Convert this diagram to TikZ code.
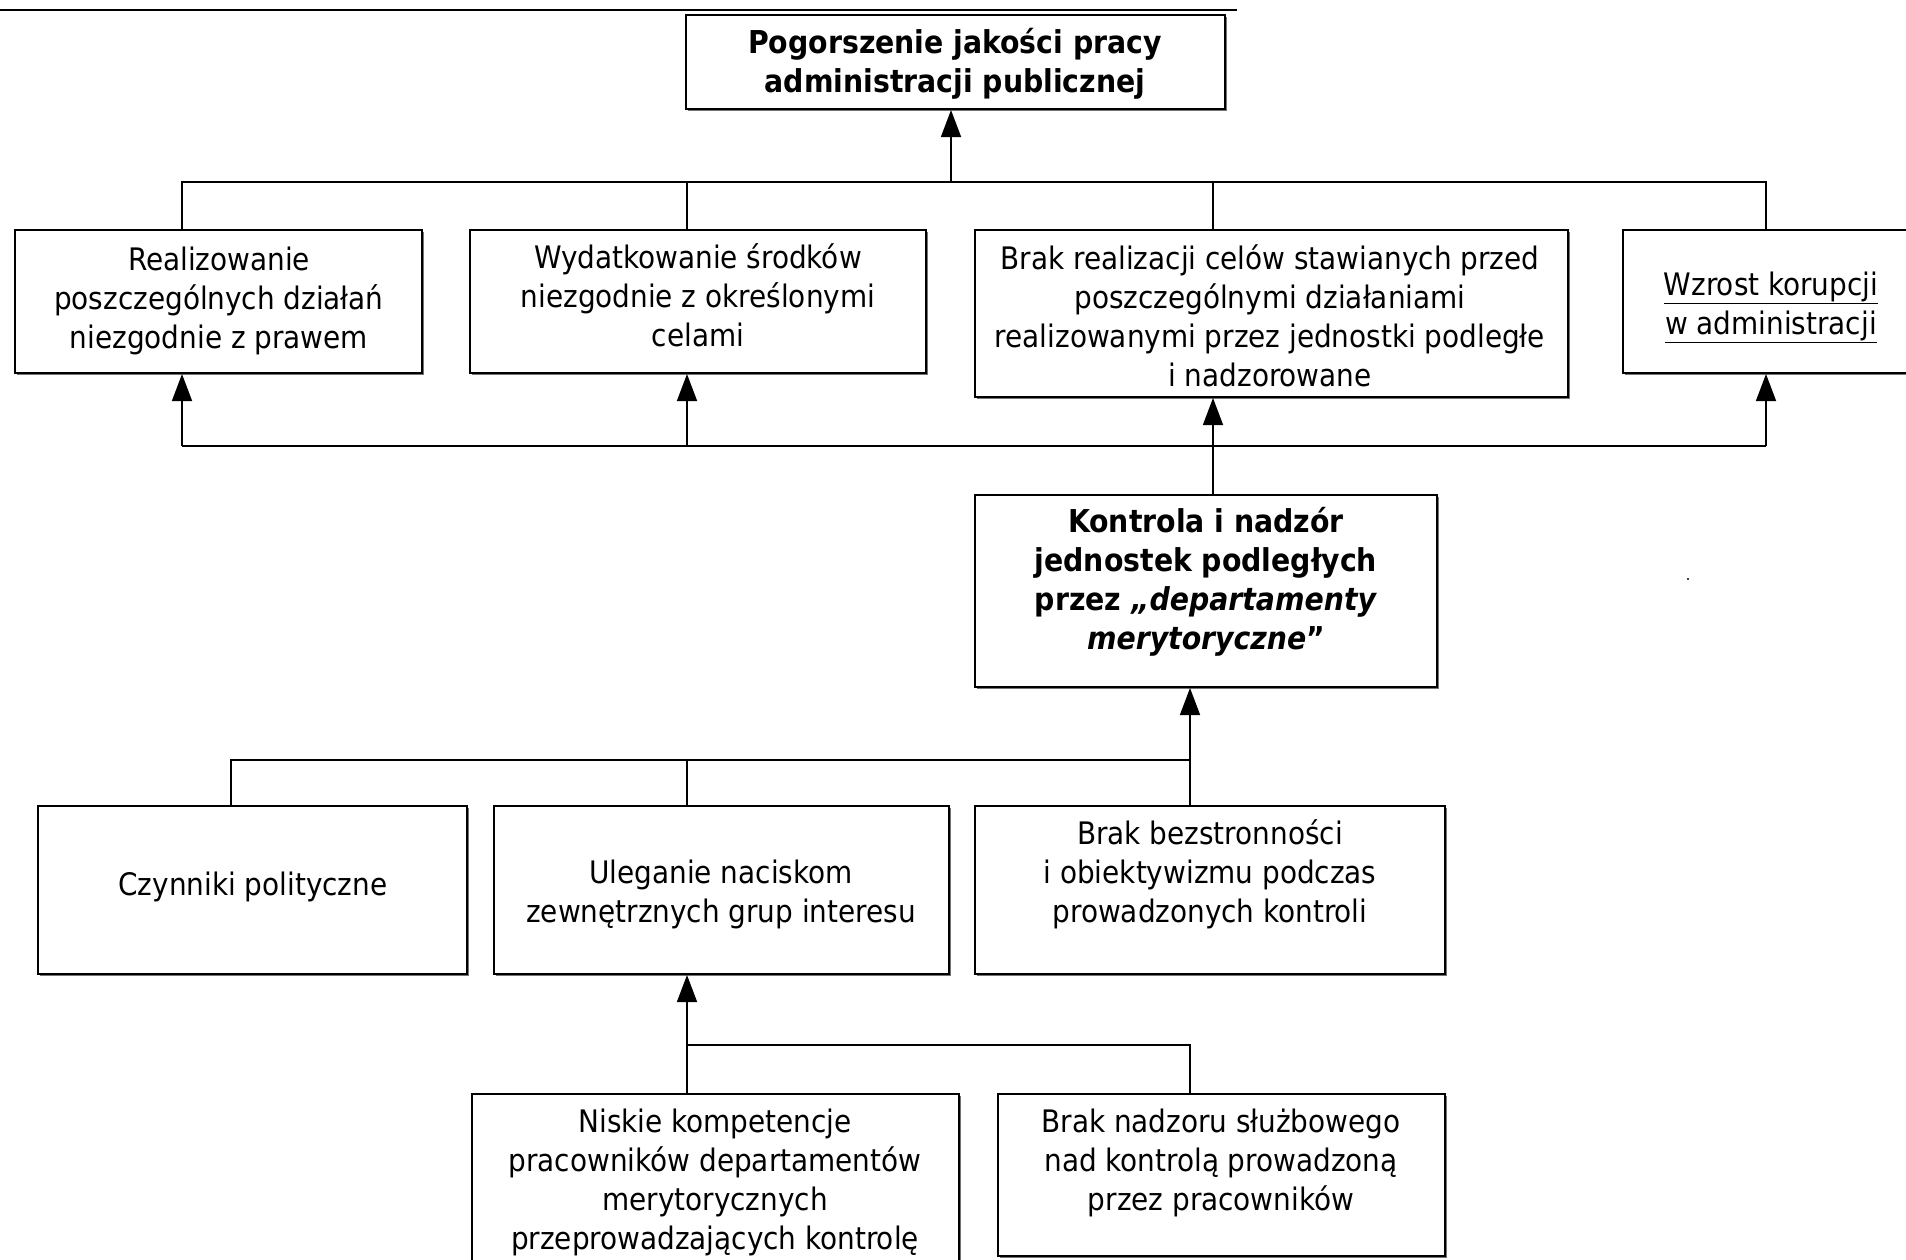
\documentclass[tikz,border=0pt]{standalone}
\usepackage{fontspec}
\setmainfont{DejaVu Sans Condensed}
\usetikzlibrary{arrows.meta,shadows}

\tikzset{
  box/.style={draw=black, line width=2pt, fill=white, inner sep=0pt,
    drop shadow={shadow xshift=1.5pt, shadow yshift=-2pt, fill=black!55, opacity=1}},
  txt/.style={align=center, inner sep=0pt, font=\fontsize{31}{39}\selectfont},
  btxt/.style={txt, font=\fontsize{31.5}{39}\selectfont\bfseries},
  link/.style={line width=1.5pt},
  arrowlink/.style={line width=1.5pt, -{Triangle[length=27pt, width=20pt]}},
}

\begin{document}
\begin{tikzpicture}[x=1pt, y=-1pt]
  \useasboundingbox (0,0) rectangle (1906,1259);
  \clip (0,0) rectangle (1906,1259);

  % header rule
  \draw[line width=2pt] (0,10) -- (1237,10);

  % boxes
  \node[box, minimum width=539pt, minimum height=94pt]  (top) at (955.5,62) {};
  \node[box, minimum width=407pt, minimum height=143pt] (b1)  at (218.5,301.5) {};
  \node[box, minimum width=456pt, minimum height=143pt] (b2)  at (698,301.5) {};
  \node[box, minimum width=593pt, minimum height=167pt] (b3)  at (1271.5,313.5) {};
  \node[box, minimum width=320pt, minimum height=143pt] (b4)  at (1783,301.5) {};
  \node[box, minimum width=462pt, minimum height=192pt] (kon) at (1206,591) {};
  \node[box, minimum width=429pt, minimum height=168pt] (c1)  at (252.5,890) {};
  \node[box, minimum width=455pt, minimum height=168pt] (c2)  at (721.5,890) {};
  \node[box, minimum width=470pt, minimum height=168pt] (c3)  at (1210,890) {};
  \node[box, minimum width=487pt, minimum height=190pt] (d1)  at (715.5,1189) {};
  \node[box, minimum width=447pt, minimum height=162pt] (d2)  at (1221.5,1175) {};

  % texts
  \node[btxt] (ttop) at (955,64) {Pogorszenie jakości pracy\\administracji publicznej};
  \node[txt] (tb1) at (219,300.5) {Realizowanie\\poszczególnych działań\\niezgodnie z prawem};
  \node[txt] (tb2) at (698,295.5) {Wydatkowanie środków\\niezgodnie z określonymi\\celami};
  \node[txt] (tb3) at (1270,316) {Brak realizacji celów stawianych przed\\poszczególnymi działaniami\\realizowanymi przez jednostki podległe\\i nadzorowane};
  \node[txt] (tb4) at (1771,307) {\underline{Wzrost korupcji}\\\underline{w administracji}};
  \node[btxt] (tkon) at (1206,582) {Kontrola i nadzór\\jednostek podległych\\przez \textit{„departamenty}\\\textit{merytoryczne}”};
  \node[txt] (tc1) at (253,887) {Czynniki polityczne};
  \node[txt] (tc2) at (721,894.5) {Uleganie naciskom\\zewnętrznych grup interesu};
  \node[txt] (tc3) at (1210,874) {Brak bezstronności\\i obiektywizmu podczas\\prowadzonych kontroli};
  \node[txt] (td1) at (715,1182.5) {Niskie kompetencje\\pracowników departamentów\\merytorycznych\\przeprowadzających kontrolę};
  \node[txt] (td2) at (1221,1163) {Brak nadzoru służbowego\\nad kontrolą prowadzoną\\przez pracowników};

  % connector levels and columns
  \coordinate (busA) at (0,182);
  \coordinate (busB) at (0,446);
  \coordinate (busC) at (0,760);
  \coordinate (busD) at (0,1045);
  \coordinate (xt)  at (951,0);
  \coordinate (xa1) at (182,0);
  \coordinate (xa2) at (687,0);
  \coordinate (xa3) at (1213,0);
  \coordinate (xa4) at (1766,0);
  \coordinate (xc1) at (231,0);
  \coordinate (xc2) at (687,0);
  \coordinate (xc3) at (1190,0);

  % upper bus into the headline box
  \draw[link] (b1.north -| xa1) -- (xa1 |- busA) -- (xa4 |- busA) -- (b4.north -| xa4);
  \draw[link] (b2.north -| xa2) -- (xa2 |- busA);
  \draw[link] (b3.north -| xa3) -- (xa3 |- busA);
  \draw[arrowlink] (xt |- busA) -- (top.south -| xt);

  % effects of supervision
  \draw[link] (xa1 |- busB) -- (xa4 |- busB);
  \draw[arrowlink] (xa1 |- busB) -- (b1.south -| xa1);
  \draw[arrowlink] (xa2 |- busB) -- (b2.south -| xa2);
  \draw[arrowlink] (xa4 |- busB) -- (b4.south -| xa4);
  \draw[arrowlink] (kon.north -| xa3) -- (b3.south -| xa3);

  % causes of weak supervision
  \draw[link] (c1.north -| xc1) |- (xc3 |- busC);
  \draw[link] (c2.north -| xc2) -- (xc2 |- busC);
  \draw[link] (c3.north -| xc3) -- (xc3 |- busC);
  \draw[arrowlink] (xc3 |- busC) -- (kon.south -| xc3);

  % causes of external pressure
  \draw[link] (d2.north -| xc3) |- (xc2 |- busD);
  \draw[arrowlink] (d1.north -| xc2) -- (c2.south -| xc2);

  % stray mark
  \fill (1688,579) circle (1.2);
\end{tikzpicture}
\end{document}
